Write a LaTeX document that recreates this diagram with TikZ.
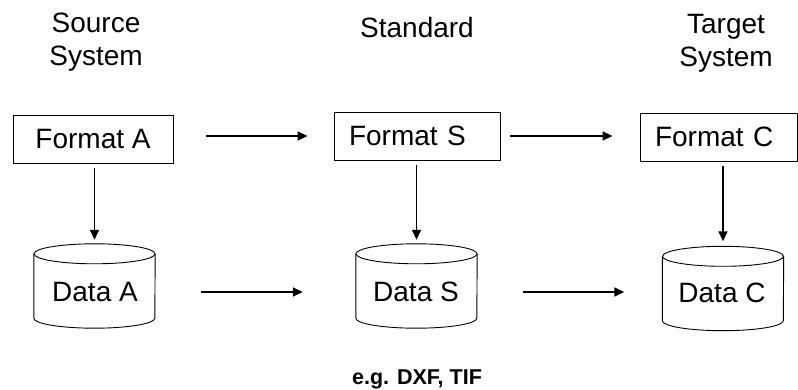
\documentclass[tikz,border=0pt]{standalone}
\usepackage{fontspec}
\setmainfont{Liberation Sans}
\usetikzlibrary{arrows.meta}

\tikzset{
  fmtbox/.style={draw, line width=0.9pt, minimum height=48pt, inner xsep=15pt,
    align=left, font=\fontsize{28pt}{33pt}\selectfont},
  datastore/.style={minimum width=121pt, minimum height=84pt, inner sep=0pt},
  storelabel/.style={font=\fontsize{28pt}{33pt}\selectfont},
  heading/.style={align=center, font=\fontsize{28pt}{33pt}\selectfont},
  flow/.style={-{Triangle[length=10pt,width=9pt]}, line width=1.6pt}
}

% outline of a data store drawn round a named node
\newcommand{\drawstore}[1]{%
  \draw[line width=0.9pt] ([yshift=-10pt]#1.north) ellipse [x radius=60.5pt, y radius=10pt];
  \draw[line width=0.9pt] ([yshift=-10pt]#1.north west) -- ([yshift=10pt]#1.south west)
    arc [start angle=180, end angle=360, x radius=60.5pt, y radius=10pt]
    -- ([yshift=-10pt]#1.north east);
}

\begin{document}
\begin{tikzpicture}[x=1pt, y=-1pt]
  \useasboundingbox (0,0) rectangle (798,390);

  % Column headings
  \node[heading] (hsrc) at (96,42) {Source\\System};
  \node[heading] (hstd) at (417,27) {Standard};
  \node[heading] (htgt) at (726,43) {Target\\System};

  % Format boxes
  \node[fmtbox, minimum width=160pt, inner xsep=21pt] (fA) at (93,139) {Format A};
  \node[fmtbox, text width=136pt] (fS) at (417,136) {Format S};
  \node[fmtbox, text width=127pt] (fC) at (718.5,137) {Format C};

  % Data stores
  \node[datastore] (dA) at (94.5,286) {};
  \node[datastore] (dS) at (416.5,286) {};
  \node[datastore] (dC) at (723,288.5) {};
  \drawstore{dA}
  \drawstore{dS}
  \drawstore{dC}
  \node[storelabel] (tA) at (95,292) {Data A};
  \node[storelabel] (tS) at (416,292) {Data S};
  \node[storelabel] (tC) at (722,293) {Data C};

  % Format to format
  \draw[flow, shorten <=33pt, shorten >=26pt] (fA.east |- fS.west) -- (fS.west);
  \draw[flow, shorten <=10pt, shorten >=27pt] (fS.east) -- (fC.west |- fS.east);

  % Format down to data
  \draw[flow, shorten <=5pt, shorten >=4pt] (dA.north |- fA.south) -- (dA.north);
  \draw[flow, shorten <=5pt, shorten >=4pt] (dS.north |- fS.south) -- (dS.north);
  \draw[flow, shorten <=5pt, shorten >=5pt] (dC.north |- fC.south) -- (dC.north);

  % Data to data
  \draw[flow, shorten <=46pt, shorten >=53pt] (dA.east |- tA.east) -- (dS.west |- tA.east);
  \draw[flow, shorten <=46pt, shorten >=38pt] (dS.east |- tS.east) -- (dC.west |- tS.east);

  % Example formats
  \node[font=\bfseries\fontsize{21.5pt}{25pt}\selectfont] (ex) at (417,379) {e.g. DXF, TIF};
\end{tikzpicture}
\end{document}
